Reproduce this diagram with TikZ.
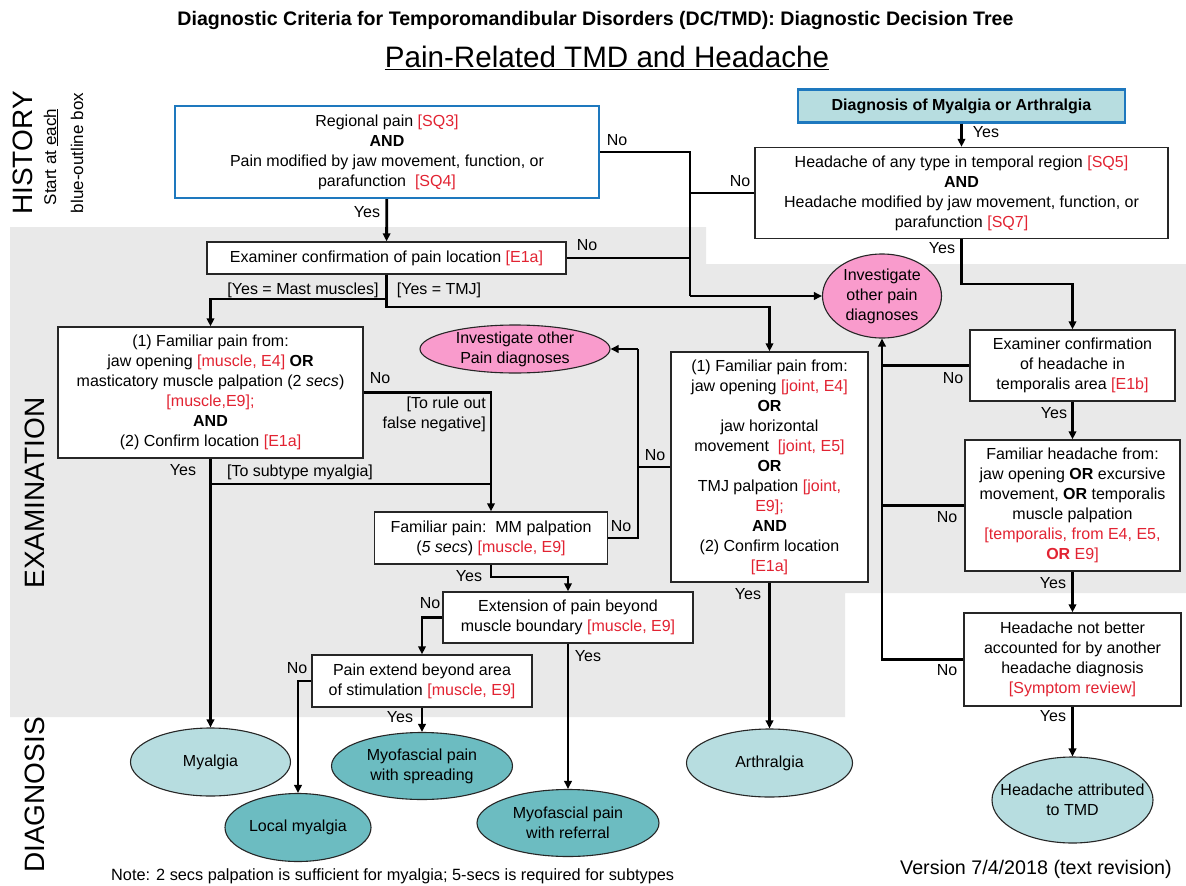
\documentclass[tikz,border=0pt]{standalone}
\usepackage{fontspec}
\setmainfont{Liberation Sans}
\usetikzlibrary{shapes.geometric,arrows.meta}
\definecolor{bgray}{RGB}{233,233,233}
\definecolor{oblue}{RGB}{30,120,190}
\definecolor{lteal}{RGB}{183,221,224}
\definecolor{dteal}{RGB}{108,188,193}
\definecolor{pinkf}{RGB}{249,155,204}
\definecolor{refred}{RGB}{226,35,50}
\newcommand{\rd}[1]{\textcolor{refred}{#1}}
\tikzset{
  box/.style={draw=black!85, line width=1.4pt, fill=white, align=center, inner sep=0pt, font=\fontsize{16}{20}\selectfont},
  bbox/.style={box, draw=oblue, line width=2.4pt},
  ellshape/.style={ellipse, draw=black!85, line width=1.1pt, inner sep=0pt},
  elltext/.style={align=center, font=\fontsize{16}{20}\selectfont, inner sep=0pt},
  conn/.style={line width=2.8pt, line join=miter},
  arr/.style={conn, -{Triangle[length=8pt,width=7.5pt]}},
  lab/.style={font=\fontsize{16}{20}\selectfont, inner sep=0pt},
  side/.style={rotate=90, inner sep=0pt},
}
\begin{document}
\begin{tikzpicture}[x=1pt,y=-1pt]
\useasboundingbox (0,0) rectangle (1186,886);
\fill[white] (0,0) rectangle (1186,886);
% gray examination band
\fill[bgray] (10,227) -- (706,227) -- (706,264) -- (1186,264) -- (1186,593) -- (845,593) -- (845,717) -- (10,717) -- cycle;

% titles
\node[inner sep=0pt, font=\bfseries\fontsize{19.6}{22}\selectfont] (title) at (595.5,20) {Diagnostic Criteria for Temporomandibular Disorders (DC/TMD): Diagnostic Decision Tree};
\node[inner sep=0pt, font=\fontsize{29.6}{32}\selectfont] (subtitle) at (607,58) {\underline{Pain-Related TMD and Headache}};

% side labels
\node[side, font=\fontsize{28}{30}\selectfont] (hist) at (23,153) {HISTORY};
\node[side, font=\fontsize{17}{20}\selectfont] (start) at (51,157) {Start at \underline{each}};
\node[side, font=\fontsize{17}{20}\selectfont] (blue) at (77,153) {blue-outline box};
\node[side, font=\fontsize{28}{30}\selectfont] (exa) at (35,493) {EXAMINATION};
\node[side, font=\fontsize{28}{30}\selectfont] (dia) at (35,795) {DIAGNOSIS};

% boxes
\node[bbox, minimum width=424pt, minimum height=92pt] (top) at (387,152)
  {Regional pain \rd{[SQ3]}\\\textbf{AND}\\Pain modified by jaw movement, function, or\\parafunction\ \ \rd{[SQ4]}};
\node[bbox, fill=lteal, minimum width=327pt, minimum height=33pt] (diag) at (961.5,106)
  {\textbf{Diagnosis of Myalgia or Arthralgia}};
\node[box, minimum width=413pt, minimum height=91pt] (head) at (961.5,193)
  {Headache of any type in temporal region \rd{[SQ5]}\\\textbf{AND}\\Headache modified by jaw movement, function, or\\parafunction \rd{[SQ7]}};
\node[box, minimum width=359pt, minimum height=32pt] (exam) at (386.5,258)
  {Examiner confirmation of pain location \rd{[E1a]}};
\node[box, minimum width=305pt, minimum height=131pt] (musc) at (210.5,392.5)
  {(1) Familiar pain from:\\jaw opening \rd{[muscle, E4]} \textbf{OR}\\masticatory muscle palpation (2 \textit{secs})\\\rd{[muscle,E9];}\\\textbf{AND}\\(2) Confirm location \rd{[E1a]}};
\node[box, minimum width=197pt, minimum height=230pt] (joint) at (769.5,467)
  {(1) Familiar pain from:\\jaw opening \rd{[joint, E4]}\\\textbf{OR}\\jaw horizontal\\movement\ \ \rd{[joint, E5]}\\\textbf{OR}\\TMJ palpation \rd{[joint,}\\\rd{E9];}\\\textbf{AND}\\(2) Confirm location\\\rd{[E1a]}};
\node[box, minimum width=205pt, minimum height=71pt] (e1b) at (1072.5,365.5)
  {Examiner confirmation\\of headache in\\temporalis area \rd{[E1b]}};
\node[box, minimum width=215pt, minimum height=131pt] (famh) at (1072.5,505.5)
  {Familiar headache from:\\jaw opening \textbf{OR} excursive\\movement, \textbf{OR} temporalis\\muscle palpation\\\rd{[temporalis, from E4, E5,}\\\rd{\textbf{OR} E9]}};
\node[box, minimum width=233pt, minimum height=52pt] (mm) at (491,538)
  {Familiar pain:\ \ MM palpation\\(\textit{5 secs}) \rd{[muscle, E9]}};
\node[box, minimum width=250pt, minimum height=51pt] (ext) at (568,617.5)
  {Extension of pain beyond\\muscle boundary \rd{[muscle, E9]}};
\node[box, minimum width=220pt, minimum height=52pt] (pext) at (422,681)
  {Pain extend beyond area\\of stimulation \rd{[muscle, E9]}};
\node[box, minimum width=217pt, minimum height=93pt] (hnb) at (1072.5,659.5)
  {Headache not better\\accounted for by another\\headache diagnosis\\\rd{[Symptom review]}};

% ellipses
\node[ellshape, fill=pinkf, minimum width=190pt, minimum height=48pt] (inv1) at (515,349) {};
\node[elltext] (inv1t) at (inv1) {Investigate other\\Pain diagnoses};
\node[ellshape, fill=pinkf, minimum width=119pt, minimum height=84pt] (inv2) at (882,296) {};
\node[elltext] (inv2t) at (inv2) {Investigate\\other pain\\diagnoses};
\node[ellshape, fill=lteal, minimum width=160pt, minimum height=68pt] (myal) at (210.5,762) {};
\node[elltext] (myalt) at (myal) {Myalgia};
\node[ellshape, fill=dteal, minimum width=146pt, minimum height=68pt] (locm) at (298,827.5) {};
\node[elltext] (locmt) at (locm) {Local myalgia};
\node[ellshape, fill=dteal, minimum width=181pt, minimum height=67pt] (mspr) at (422,766) {};
\node[elltext] (msprt) at (mspr) {Myofascial pain\\with spreading};
\node[ellshape, fill=dteal, minimum width=182pt, minimum height=67pt] (mref) at (568,823) {};
\node[elltext] (mreft) at (mref) {Myofascial pain\\with referral};
\node[ellshape, fill=lteal, minimum width=166pt, minimum height=68pt] (arth) at (769.5,763) {};
\node[elltext] (artht) at (arth) {Arthralgia};
\node[ellshape, fill=lteal, minimum width=161pt, minimum height=86pt] (hatt) at (1072.5,800) {};
\node[elltext] (hattt) at (hatt) {Headache attributed\\to TMD};

% junction coordinates
\coordinate (jn) at (690,296);
\coordinate (m1) at (386.5,299);
\coordinate (m2) at (386.5,307);
\coordinate (t1) at (210.5,484);
\coordinate (t2) at (491,484);
\coordinate (jj) at (638,349);
\coordinate (y1) at (491,577);
\coordinate (h1) at (961.5,284);
\coordinate (v1) at (882,659.5);

% connectors
\draw[arr] (top) -- (exam);
\draw[conn] (top.east) -| (jn);
\draw[conn] (exam.east) -| (jn);
\draw[conn] (head.west) -| (jn);
\draw[arr] (jn) -- (inv2.west);
\draw[arr] (exam.south) -- (m1) -| (musc.north);
\draw[arr] (exam.south) -- (m2) -| (joint.north);
\draw[arr] (musc.east) -| (mm.north);
\draw[arr] (musc.south) -- (myal.north);
\draw[conn] (t1) -- (t2);
\draw[conn] (mm.east) -| (jj);
\draw[conn] (joint.west) -- (joint.west -| jj);
\draw[arr] (jj) -- (inv1.east);
\draw[arr] (mm.south) -- (y1) -| (ext.north);
\draw[arr] (ext.west) -| (pext.north);
\draw[arr] (ext.south) -- (mref.north);
\draw[arr] (pext.west) -| (locm.north);
\draw[arr] (pext.south) -- (mspr.north);
\draw[arr] (joint.south) -- (arth.north);
\draw[arr] (diag.south) -- (head.north);
\draw[arr] (head.south) -- (h1) -| (e1b.north);
\draw[conn] (e1b.west) -- (e1b.west -| v1);
\draw[conn] (famh.west) -- (famh.west -| v1);
\draw[arr] (hnb.west) -- (v1) -- (inv2.south);
\draw[arr] (e1b.south) -- (famh.north);
\draw[arr] (famh.south) -- (hnb.north);
\draw[arr] (hnb.south) -- (hatt.north);

% connector labels
\node[lab] (l1) at (367,212) {Yes};
\node[lab] (l2) at (617,140) {No};
\node[lab] (l3) at (740,181) {No};
\node[lab] (l4) at (587,245) {No};
\node[lab] (l5) at (303,290) {[Yes = Mast muscles]};
\node[lab] (l6) at (439,290) {[Yes = TMJ]};
\node[lab] (l7) at (380,378) {No};
\node[lab, align=right, anchor=east] (l8) at (486,414) {[To rule out\\false negative]};
\node[lab] (l9) at (183,470) {Yes};
\node[lab] (l10) at (300,472) {[To subtype myalgia]};
\node[lab] (l11) at (655,455) {No};
\node[lab] (l12) at (621,526) {No};
\node[lab] (l13) at (469,576) {Yes};
\node[lab] (l14) at (430,603) {No};
\node[lab] (l15) at (588,656) {Yes};
\node[lab] (l16) at (297,668) {No};
\node[lab] (l17) at (400,717) {Yes};
\node[lab] (l18) at (748,594) {Yes};
\node[lab] (l19) at (986,132) {Yes};
\node[lab] (l20) at (942,248) {Yes};
\node[lab] (l21) at (953,378) {No};
\node[lab] (l22) at (1054,413) {Yes};
\node[lab] (l23) at (947,517) {No};
\node[lab] (l24) at (1053,583) {Yes};
\node[lab] (l25) at (947,670) {No};
\node[lab] (l26) at (1053,716) {Yes};

% footer
\node[inner sep=0pt, anchor=west, font=\fontsize{16.3}{18}\selectfont] (note) at (111,876) {Note: 2 secs palpation is sufficient for myalgia; 5-secs is required for subtypes};
\node[inner sep=0pt, anchor=west, font=\fontsize{19.7}{22}\selectfont] (ver) at (900,869) {Version 7/4/2018 (text revision)};
\end{tikzpicture}
\end{document}
